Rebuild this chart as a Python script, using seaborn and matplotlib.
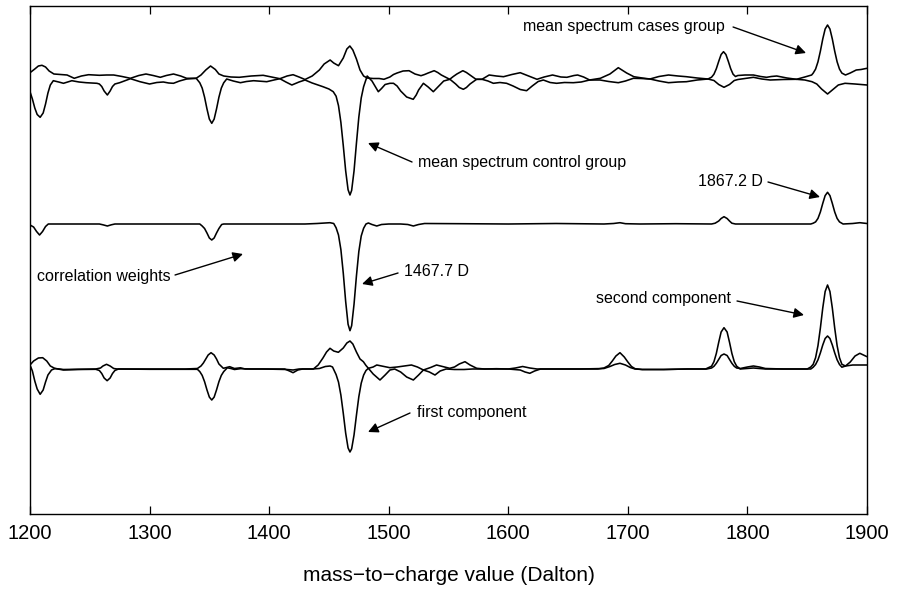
import matplotlib
matplotlib.use("Agg")
import matplotlib.pyplot as plt
import seaborn as sns
import pandas as pd

# ---------------- data (m/z in Dalton, deviation from each trace's own baseline) ----------------
cases_group = [
    (1200, 4.3), (1204, 8), (1207, 11), (1210, 11.7), (1213, 10), (1216, 6), (1220, 3), (1225, 2.5),
    (1231, 2), (1237, -1.3), (1243, 1), (1249, 2.3), (1258, 1.7), (1264, 2), (1270, 2), (1277, 0.5),
    (1284, -1.3), (1291, 1.5), (1297, 3), (1303, 1.5), (1309, -0.3), (1314, 1.5), (1320, 3), (1326, 1),
    (1331, -1.3), (1339, -1.3), (1343, 2), (1347, 7), (1351, 11), (1355, 7.5), (1358, 3), (1362, 1),
    (1368, 0), (1375, -0.3), (1385, 1), (1395, 1.7), (1402, 0), (1409, -1.7), (1415, 1), (1420, 2.3),
    (1425, 0), (1430, -2.5), (1436, 1), (1442, 7), (1446, 13), (1451, 17), (1454, 14), (1458, 11.3),
    (1462, 19), (1465, 28), (1467.5, 31), (1470, 27), (1473, 18), (1476, 7), (1479, 1), (1482, -1),
    (1487, -1.5), (1492, -1.5), (1496, -2.3), (1501, 0), (1504, 2.5), (1507, 4), (1512, 6), (1517, 6.3),
    (1522, 3), (1527, 1.3), (1530, 2.5), (1533, 4), (1538, 6.3), (1541, 4.5), (1544, 2), (1551, -2.3),
    (1554, 0.5), (1557, 3), (1562, 6.3), (1565, 4.5), (1568, 2), (1573, -2.3), (1578, -2.3), (1584, 2),
    (1590, 1), (1596, 0.3), (1603, 2.5), (1610, 4.3), (1617, 1), (1624, -2.3), (1630, 0), (1637, 2),
    (1644, 0), (1649, -0.3), (1655, 1.5), (1658, 2), (1663, 0), (1668, -3), (1673, -2), (1677, -1.3),
    (1685, 3), (1692, 9.3), (1699, 4), (1705, 0.3), (1712, -1), (1718.5, -2), (1726, 0.5), (1734, 2),
    (1742, 1), (1749, 0.3), (1758, -1), (1767, -2), (1770, -0.2), (1772, 2.8), (1774, 8.3), (1776, 15.7),
    (1778, 22.5), (1780, 25.3), (1782, 22.5), (1784, 15.7), (1786, 8.3), (1788, 2.8), (1790, 0.5),
    (1792, 1.5), (1798, 2), (1805, 2), (1811, 0.5), (1816, -0.3), (1820, 0.5), (1824.5, 1), (1833, -1),
    (1841, -2.3), (1848, 0), (1853.7, 2), (1855, 3.9), (1857, 7.9), (1859, 15.2), (1861, 25.8),
    (1863, 38), (1865, 48), (1867, 52), (1869, 48), (1871, 38), (1873, 25.8), (1875, 15.2), (1877, 7.9),
    (1879, 3.9), (1882, 2), (1886, 4), (1891, 7), (1895, 7.5), (1900, 8.7),
]

control_group = [
    (1200, -14.7), (1202, -22), (1204, -31), (1206, -37.5), (1208.5, -40.3), (1211, -36), (1213, -27),
    (1215, -16), (1217, -8), (1219.5, -3.7), (1224, -5), (1228, -6.3), (1235, -3.7), (1241, -5),
    (1247, -5.7), (1256, -6.3), (1258, -7), (1260, -9.5), (1262, -14), (1264.7, -18), (1267, -14),
    (1269, -9.5), (1271, -7), (1275, -5.7), (1284, -1.7), (1292, -4.7), (1300, -7), (1306, -5.5),
    (1311.5, -5), (1316, -6), (1320, -6.3), (1325, -4), (1331, -2), (1339, -1.3), (1342, -5.8),
    (1344, -11.1), (1346, -20.2), (1348, -31.9), (1350, -42.1), (1352, -46.3), (1354, -42.1),
    (1356, -31.9), (1358, -20.2), (1360, -11.1), (1362, -5.8), (1364.5, -2), (1370, -4), (1376, -5.7),
    (1381, -4.5), (1387, -3.7), (1392, -4.2), (1398, -4.7), (1404, -3), (1409, -1.7), (1414, -5),
    (1419, -8), (1425, -5), (1430, -3), (1436, -6), (1445, -9.7), (1450, -12), (1453.6, -14.7),
    (1456, -19.2), (1458, -28.7), (1460, -45.4), (1462, -68.6), (1464, -93.8), (1466, -112.7),
    (1467.6, -118), (1469, -113.4), (1471, -93.9), (1473, -66.3), (1475, -40.2), (1477, -21),
    (1479, -9.7), (1482, 1), (1486, -4), (1491.3, -14.7), (1494, -11.5), (1497, -7.5), (1501, -6.3),
    (1504, -6.3), (1507, -9), (1510, -14), (1515, -20), (1520.5, -22.3), (1523, -18), (1525, -13),
    (1529, -6.3), (1533, -10), (1537.3, -14.7), (1542, -9), (1546, -4), (1551.2, -2.3), (1556, -7),
    (1559, -10.5), (1562.4, -12.3), (1565, -10.5), (1568, -7), (1573.5, -2.3), (1578, -2.3), (1583, -4),
    (1587.5, -6.3), (1593, -5.5), (1598.6, -6.3), (1604, -9), (1610, -12.5), (1615.3, -13.7),
    (1620, -9), (1625, -4.5), (1629.3, -3), (1635, -5.5), (1640.4, -6.3), (1647, -5.5), (1654.4, -5.7),
    (1661, -5), (1668, -3), (1676.7, -3), (1684, -4.5), (1692, -5.7), (1698, -4), (1704.6, -1.3),
    (1711, -1.5), (1718.5, -2), (1726, -4), (1734, -5.7), (1742, -5), (1749, -4.7), (1758, -3),
    (1767, -2), (1772, -3.5), (1776, -7.5), (1780.4, -10.3), (1785, -7.5), (1789, -3.5), (1792, -2.5),
    (1798, -1.5), (1805, -0.3), (1812, -2), (1819, -3), (1830, -2.5), (1841, -2.3), (1848, -3),
    (1854, -4.7), (1858, -7), (1862, -12), (1867, -17), (1872, -12), (1876, -8), (1881.6, -6.3),
    (1890, -7), (1900, -8),
]

correlation_weights = [
    (1200, -1), (1203, -3), (1205.5, -7.5), (1208, -11), (1210.5, -7.5), (1213, -2.5), (1215.3, 0),
    (1230, 0), (1258, 0), (1261, -0.8), (1264.7, -2), (1268, -0.8), (1271, 0), (1300, 0), (1342, 0),
    (1344, -2), (1346, -4.5), (1348, -9), (1350, -14), (1352, -16), (1354, -14), (1356, -9), (1358, -4.5),
    (1360.3, -0.5), (1362, 0), (1400, 0), (1430, 0), (1440, 0.5), (1450.9, 1.3), (1454, 0.5),
    (1456, -3.8), (1458, -11), (1460, -25.6), (1462, -49.2), (1464, -77.5), (1466, -100.2),
    (1467.6, -106.7), (1469, -101.7), (1471, -80.2), (1473, -52), (1475, -27.6), (1477, -12),
    (1479, -4.3), (1481, 0), (1483, 1), (1486, -0.5), (1490, -2), (1494, -0.5), (1500, 0), (1510, 0),
    (1516, -0.5), (1520.6, -2), (1525, -0.5), (1530, 0.5), (1560, 0.3), (1600, 0), (1640, 0.5),
    (1680, 0), (1688, 0.5), (1693.4, 1.3), (1698, 0.3), (1710, 0), (1740, 0.3), (1770, 0), (1773, 0.8),
    (1776, 3), (1778, 5.5), (1780.4, 7.3), (1783, 5.5), (1785, 3), (1787, 0.8), (1790, 0), (1820, 0),
    (1853, 0), (1855, 0.8), (1857, 2.1), (1859, 5.6), (1861, 12), (1863, 20.6), (1865, 28.4),
    (1867, 31.7), (1869, 28.4), (1871, 20.6), (1873, 12), (1875, 5.6), (1877, 2.1), (1880, 0),
    (1888, 0.5), (1894, 1.3), (1900, 0.5),
]

second_component = [
    (1200, 4), (1203, 8), (1207, 11), (1210.6, 11.3), (1214, 8), (1217, 3), (1220.9, 0.5), (1228, -0.5),
    (1240, -0.3), (1255, 0), (1259, 1), (1261, 3), (1264, 4.7), (1267, 3), (1270, 0.5), (1273, 0),
    (1300, 0), (1330, 0), (1340, 0.5), (1343, 3), (1345, 6), (1347, 10), (1349, 14), (1351.4, 16.3),
    (1354, 14), (1356, 10), (1358, 5), (1361.7, 0.7), (1367, 2.3), (1371, 0.5), (1376, 1.2), (1380, 0),
    (1395, 0), (1415, -0.5), (1420, -1), (1425, 0), (1437, 0), (1441, 4), (1445, 11), (1448, 17),
    (1450.9, 20.7), (1454, 18), (1457.9, 16.7), (1462, 21), (1465, 26), (1467.6, 28), (1470, 25),
    (1473, 17), (1476, 10), (1478.8, 7.3), (1481, 3.5), (1483, 0.7), (1487, 2), (1490, 4), (1494, 3),
    (1501, 1.3), (1507, 2), (1513, 3), (1519, 4), (1524, 2), (1529, -1), (1535, 1.5), (1540, 4),
    (1545, 2.5), (1551, 0.7), (1555, 2), (1559, 5), (1563.8, 7.3), (1568, 4), (1573.6, 0.7), (1580, 0),
    (1590, 0.3), (1600, 0), (1606, 1), (1612, 2.5), (1618, 1), (1624, 0), (1640, 0), (1660, 0),
    (1675, 0), (1680, 1), (1684, 3.5), (1687, 8), (1690, 13), (1693.4, 16.3), (1697, 12), (1700, 7),
    (1703, 2.5), (1706, 0.3), (1712, -0.5), (1730, -0.5), (1750, 0), (1765, 0), (1770, 2.8),
    (1772, 7.3), (1774, 15.6), (1776, 26.8), (1778, 37), (1780.4, 41.3), (1783, 37), (1785, 26.8),
    (1787, 15.6), (1789, 7.3), (1791, 2.8), (1794, 0), (1805, 1), (1815, 0), (1850, 0), (1853, 2),
    (1855, 4.7), (1857, 11.3), (1859, 23.4), (1861, 40.9), (1863, 61), (1865, 77.5), (1867, 84),
    (1869, 77.5), (1871, 61), (1873, 40.9), (1875, 23.4), (1877, 11.3), (1879, 4.7), (1882, 3),
    (1886, 7), (1890, 13), (1894, 15.7), (1897, 14), (1900, 12.3),
]

first_component = [
    (1200, 4), (1202, -2), (1204, -12), (1206, -20), (1208.5, -25.3), (1211, -21), (1213, -13),
    (1215, -6), (1218, -1), (1221, 0.5), (1228, -1), (1240, -0.5), (1255, -0.3), (1258, -1.5),
    (1260, -4.5), (1262, -9), (1264.5, -11.7), (1267, -9), (1269, -4.5), (1271, -1.5), (1274, 0),
    (1300, -0.3), (1330, -0.3), (1340, -0.3), (1342, -2.6), (1344, -6.4), (1346, -12.7), (1348, -20.9),
    (1350, -28.1), (1352, -31), (1354, -28.1), (1356, -20.9), (1358, -12.7), (1360, -6.4), (1362, -2.6),
    (1365, 1.2), (1368, 0.5), (1371, -0.5), (1376, 0.3), (1385, 0), (1413, 0), (1417, -2), (1420, -3.7),
    (1424, -1), (1428, 0), (1436, 0), (1442, 0.5), (1447, 2.5), (1451, 3), (1453, 2), (1456, -5.6),
    (1458, -13.1), (1460, -26.1), (1462, -44.3), (1464, -64.1), (1466, -78.9), (1467.6, -83),
    (1469, -79.8), (1471, -65.9), (1473, -46.3), (1475, -27.8), (1477, -14.2), (1479, -6.1),
    (1481, -1.5), (1483, 0.7), (1487, -5), (1492.7, -11), (1497, -6), (1501, -1), (1505, 0), (1510, -3),
    (1515, -8), (1520.6, -11), (1525, -6), (1529, -1), (1534, -3), (1538.7, -6), (1543, -2), (1548, 0),
    (1555, -0.5), (1563, -0.5), (1570, 0), (1600, 0), (1610, -1), (1614, -3), (1618, -4.3), (1622, -2),
    (1627, 0), (1660, 0), (1680, 0.5), (1685, 2.5), (1689, 4.5), (1693.4, 5.7), (1698, 4), (1702, 1.5),
    (1706, 0), (1712, -0.5), (1730, -0.5), (1750, 0), (1766, 0), (1770, 1), (1772, 2.7), (1774, 5.7),
    (1776, 9.7), (1778, 13.5), (1780.4, 15), (1783, 13.5), (1785, 9.7), (1787, 5.7), (1789, 2.7),
    (1791, 1), (1794, 0.5), (1800, 2), (1805, 3), (1810, 2), (1815, 0.5), (1830, 0), (1853, 0),
    (1855, 1.8), (1857, 4.5), (1859, 9.2), (1861, 16.1), (1863, 24), (1865, 30.5), (1867, 33),
    (1869, 30.5), (1871, 24), (1873, 16.1), (1875, 9.2), (1877, 4.5), (1879, 1.8), (1882, 3), (1888, 4),
    (1894, 4), (1900, 4),
]

x_ticks = [1200, 1300, 1400, 1500, 1600, 1700, 1800, 1900]
x_label = "mass\u2212to\u2212charge value (Dalton)"

# annotation texts: (label, text anchor, arrow tail, arrow head)
annotations = [
    ("mean spectrum cases group", (1612.3, 488), (1788, 487), (1849, 461)),
    ("mean spectrum control group", (1524.5, 351), (1519.5, 352), (1482.7, 371)),
    ("1867.2 D", (1758.7, 332), (1817.2, 332), (1860.7, 317)),
    ("correlation weights", (1205.9, 237), (1321.3, 239), (1378.1, 260)),
    ("1467.7 D", (1512.8, 242), (1507.8, 241), (1477.7, 230)),
    ("second component", (1673.4, 215), (1791.3, 213), (1847.3, 199)),
    ("first component", (1523.7, 101), (1517.8, 101), (1482.7, 82)),
]

# ---------------- layout ----------------
sns.set_style("white")
plt.rcParams["font.family"] = ["Liberation Sans", "DejaVu Sans"]
plt.rcParams["text.color"] = "black"
plt.rcParams["axes.labelcolor"] = "black"

W, H = 899, 589
fig = plt.figure(figsize=(W / 100, H / 100), dpi=100)
ax = fig.add_axes([30 / W, 1 - 514 / H, 837 / W, 508 / H])

traces = [
    (cases_group, 437),
    (control_group, 437),
    (correlation_weights, 290),
    (second_component, 145),
    (first_component, 145),
]
for pts, base in traces:
    df = pd.DataFrame(pts, columns=["mz", "value"])
    df["y"] = df["value"] + base
    sns.lineplot(data=df, x="mz", y="y", ax=ax, color="black", linewidth=1.15,
                 estimator=None, sort=False, legend=False)

ax.set_xlim(1200, 1900)
ax.set_ylim(0, 508)
ax.set_xticks(x_ticks)
ax.set_xticklabels([str(t) for t in x_ticks])
ax.set_yticks([])
ax.set_ylabel("")
ax.tick_params(axis="x", direction="in", top=True, bottom=True, length=5.5, width=0.9,
               labelsize=14.5, pad=7, colors="black", labelcolor="black")
ax.set_xlabel(x_label, fontsize=15, labelpad=17, color="black")
for s in ax.spines.values():
    s.set_visible(True)
    s.set_color("black")
    s.set_linewidth(1.0)

for label, txt_xy, tail, head in annotations:
    ax.text(txt_xy[0], txt_xy[1], label, fontsize=11.5, ha="left", va="center", color="black")
    ax.annotate("", xy=head, xytext=tail, xycoords="data", textcoords="data",
                arrowprops=dict(arrowstyle="-|>", color="black", lw=1.0, mutation_scale=15,
                                shrinkA=0, shrinkB=0))

fig.savefig("out.png", dpi=100)
